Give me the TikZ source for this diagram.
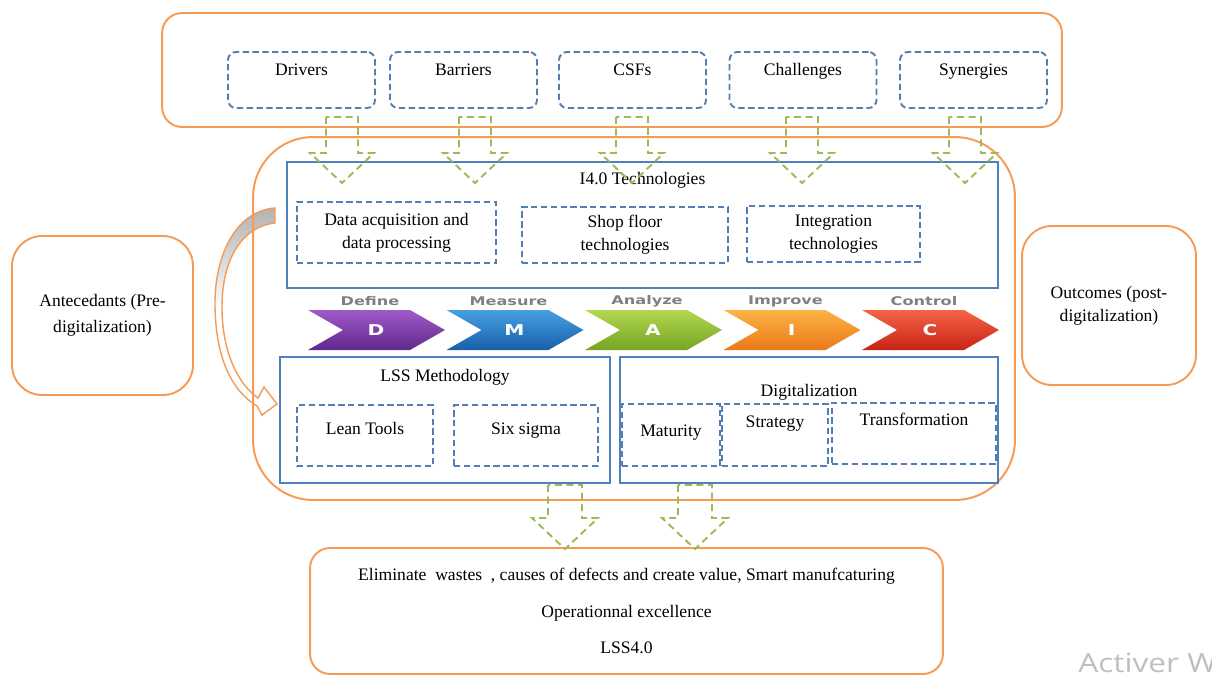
\documentclass[tikz,border=0pt]{standalone}
\usepackage{fontspec}
\setmainfont{Liberation Serif}
\newfontfamily\dmaicfont{DejaVu Sans}
\newfontfamily\markfont{Open Sans}

\definecolor{lssorange}{RGB}{245,155,85}
\definecolor{lssblue}{RGB}{79,129,189}
\definecolor{lssdash}{RGB}{84,125,180}
\definecolor{lssgreen}{RGB}{155,187,89}
\definecolor{dfnT}{RGB}{160,90,200}
\definecolor{dfnB}{RGB}{95,40,140}
\definecolor{msrT}{RGB}{70,160,225}
\definecolor{msrB}{RGB}{25,95,170}
\definecolor{anlT}{RGB}{180,215,80}
\definecolor{anlB}{RGB}{115,165,35}
\definecolor{impT}{RGB}{252,180,70}
\definecolor{impB}{RGB}{235,120,25}
\definecolor{ctlT}{RGB}{245,100,70}
\definecolor{ctlB}{RGB}{200,35,20}

\newcommand{\dmaicwide}[1]{\scalebox{1.35}[1]{#1}}

\begin{document}
\begin{tikzpicture}[
	x=0.02cm, y=0.02cm,
	font=\fontsize{10}{13}\selectfont,
	obox/.style={ draw=lssorange, line width=1.1pt, inner sep=0pt, align=center },
	bbox/.style={ draw=lssblue, line width=1.3pt, inner sep=0pt },
	dbox/.style={ draw=lssdash, line width=1.1pt, dash pattern=on 3.6pt off 2pt, inner sep=0pt },
	factor/.style={ dbox, rounded corners=0.16cm, minimum width=2.94cm, text height=0.48cm, text depth=0.64cm },
	garrow/.style={ draw=lssgreen, line width=1.1pt, dash pattern=on 4pt off 2.6pt },
	steplabel/.style={ text=black!50, font=\dmaicfont\bfseries\fontsize{6.8}{7}\selectfont, inner sep=0pt },
	stepletter/.style={ text=white, font=\dmaicfont\bfseries\fontsize{8.5}{9}\selectfont, inner sep=0pt }
]

\useasboundingbox (0,0) rectangle (1212,677);
\clip (0,0) rectangle (1212,677);

\node at (612,607) (top) [obox, rounded corners=0.4cm, minimum width=18cm, minimum height=2.28cm] {};
\node at (301.5,597) (drv) [factor] {Drivers};
\node at (463.5,597) (bar) [factor] {Barriers};
\node at (632.5,597) (csf) [factor] {CSFs};
\node at (803,597) (chl) [factor] {Challenges};
\node at (973.5,597) (syn) [factor] {Synergies};

\draw[draw=lssorange, line width=0.8pt, top color=black!30, bottom color=white, middle color=white]
	(275,469) .. controls (235,466) and (214,420) .. (215,370)
	.. controls (216,318) and (232,286) .. (257,271)
	-- (262,262) -- (277,273) -- (264,290) -- (258,279)
	.. controls (238,293) and (222,325) .. (222,370)
	.. controls (222,415) and (240,450) .. (275,454) -- cycle;

\node at (634,358.5) (core) [obox, rounded corners=1.2cm, minimum width=15.24cm, minimum height=7.26cm] {};

\node at (642.5,452) (tech) [bbox, minimum width=14.22cm, text height=0.44cm, text depth=2.08cm] {I4.0 Technologies};
\node at (396.5,444.5) (daq) [dbox, align=center, minimum width=3.98cm, minimum height=1.22cm] {Data acquisition and\\data processing};
\node at (625,442) (shop) [dbox, align=center, minimum width=4.12cm, minimum height=1.12cm] {Shop floor\\technologies};
\node at (833.5,443) (integ) [dbox, align=center, minimum width=3.46cm, minimum height=1.12cm] {Integration\\technologies};

\foreach \i/\word/\ltr/\ct/\cb in {0/Define/D/dfnT/dfnB, 1/Measure/M/msrT/msrB, 2/Analyze/A/anlT/anlB, 3/Improve/I/impT/impB, 4/Control/C/ctlT/ctlB} {
	\pgfmathsetmacro\L{308+138.5*\i}
	\shade[top color=\ct, bottom color=\cb] (\L,367) -- (\L+102,367) -- (\L+137,347) -- (\L+102,327) -- (\L,327) -- (\L+35,347) -- cycle;
	\node at (\L+62,376) (word\i) [steplabel] {\dmaicwide{\word}};
	\node at (\L+68,347) (ltr\i) [stepletter] {\dmaicwide{\ltr}};
}

\node at (445,257) (lss) [bbox, minimum width=6.6cm, text height=0.48cm, text depth=2.04cm] {LSS Methodology};
\node at (365,241.5) (lean) [dbox, minimum width=2.72cm, text height=0.58cm, text depth=0.64cm] {Lean Tools};
\node at (526,241.5) (six) [dbox, minimum width=2.88cm, text height=0.58cm, text depth=0.64cm] {Six sigma};

\node at (809,257) (digi) [bbox, minimum width=7.56cm, text height=0.78cm, text depth=1.74cm] {Digitalization};
\node at (671,242) (mat) [dbox, minimum width=1.96cm, text height=0.64cm, text depth=0.60cm] {Maturity};
\node at (775,242) (strat) [dbox, minimum width=2.12cm, text height=0.46cm, text depth=0.78cm] {Strategy};
\node at (914,243.5) (trans) [dbox, minimum width=3.28cm, text height=0.44cm, text depth=0.78cm] {Transformation};

\node at (102.5,361.5) (ante) [obox, rounded corners=0.6cm, minimum width=3.62cm, minimum height=3.18cm] {Antecedants (Pre-\\[1.5pt]digitalization)};
\node at (1109,371.5) (outc) [obox, rounded corners=0.6cm, minimum width=3.48cm, minimum height=3.18cm] {Outcomes (post-\\digitalization)};

\node at (626.5,66) (res) [obox, rounded corners=0.4cm, minimum width=12.66cm, minimum height=2.52cm] {Eliminate~ wastes~ , causes of defects and create value, Smart manufcaturing\\[8pt]Operationnal excellence\\[8pt]LSS4.0};

\foreach \ax in {342,475,632,802,965}
	\draw[garrow] (\ax-16,560) -- (\ax-16,524) -- (\ax-32,524) -- (\ax,494) -- (\ax+32,524) -- (\ax+16,524) -- (\ax+16,560) -- cycle;
\foreach \ax in {565,695}
	\draw[garrow] (\ax-17,192) -- (\ax-17,159) -- (\ax-33,159) -- (\ax,128) -- (\ax+33,159) -- (\ax+17,159) -- (\ax+17,192) -- cycle;

\node at (1078,14) (mark) [anchor=west, inner sep=0pt, text=black!25, font=\markfont\fontsize{15}{17}\selectfont] {\scalebox{1.2}[1]{Activer W}};

\end{tikzpicture}
\end{document}
